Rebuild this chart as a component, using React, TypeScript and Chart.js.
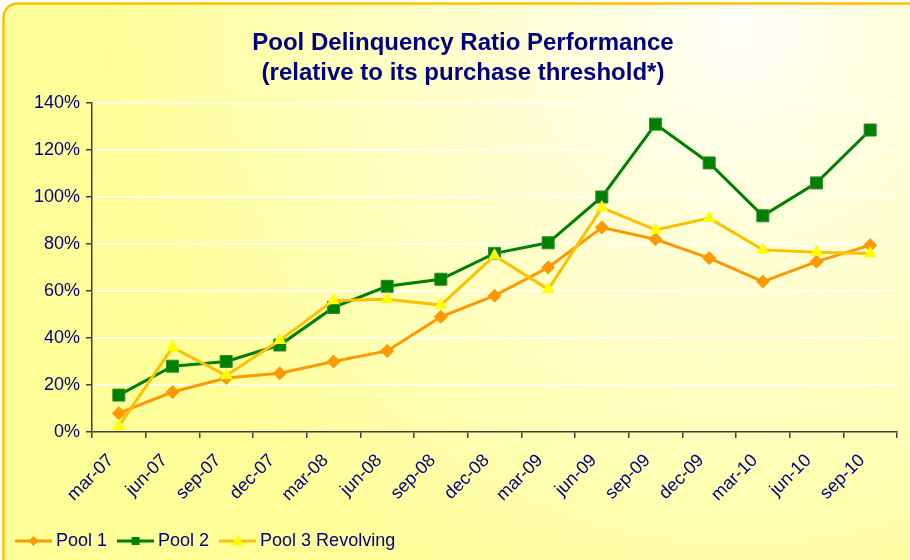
import React, { useEffect, useRef } from "react";
import { Chart, registerables } from "chart.js";

Chart.register(...registerables);

const categories = [
  "mar-07", "jun-07", "sep-07", "dec-07", "mar-08", "jun-08", "sep-08", "dec-08",
  "mar-09", "jun-09", "sep-09", "dec-09", "mar-10", "jun-10", "sep-10",
];
const pool1 = [8, 17, 23, 25, 30, 34.5, 49, 58, 70, 87, 82, 74, 64, 72.5, 79.5];
const pool2 = [15.7, 28, 30, 37, 53, 62, 65, 76, 80.5, 100, 131, 114.5, 92, 106, 128.5];
const pool3 = [2.5, 36, 24, 39, 56, 56.5, 54, 75, 60.7, 95.5, 86, 91, 77.5, 76.5, 76];
const seriesNames = ["Pool 1", "Pool 2", "Pool 3 Revolving"];
const titleLines = ["Pool Delinquency Ratio Performance", "(relative to its purchase threshold*)"];
const yMax = 140;
const yStep = 20;

const FONT = "'Liberation Sans', Arial, sans-serif";
const NAVY = "#000080";
const AXIS = "#404040";

function legendIcon(kind: string, line: string, fill: string) {
  const c = document.createElement("canvas");
  c.width = 37;
  c.height = 16;
  const ctx = c.getContext("2d")!;
  ctx.strokeStyle = line;
  ctx.lineWidth = 3;
  ctx.beginPath();
  ctx.moveTo(0, 8);
  ctx.lineTo(37, 8);
  ctx.stroke();
  ctx.fillStyle = fill;
  ctx.beginPath();
  if (kind === "diamond") {
    ctx.moveTo(18.5, 3);
    ctx.lineTo(23.5, 8);
    ctx.lineTo(18.5, 13);
    ctx.lineTo(13.5, 8);
  } else if (kind === "square") {
    ctx.rect(14.5, 4, 8, 8);
  } else {
    ctx.moveTo(18.5, 1.5);
    ctx.lineTo(24.5, 12.5);
    ctx.lineTo(12.5, 12.5);
  }
  ctx.closePath();
  ctx.fill();
  return c;
}

const bgPlugin = {
  id: "bgPlugin",
  beforeDraw(chart: any) {
    const { ctx, width, height } = chart;
    ctx.save();
    ctx.fillStyle = "#ffffff";
    ctx.fillRect(0, 0, width, height);
    const g = ctx.createRadialGradient(740, 30, 0, 740, 30, 640);
    g.addColorStop(0, "#FFFFF6");
    g.addColorStop(1, "#FFFF99");
    ctx.fillStyle = g;
    const x = 3.5, y = 3.5, w = width + 30, h = height + 30, r = 14;
    ctx.beginPath();
    ctx.moveTo(x + r, y);
    ctx.lineTo(x + w, y);
    ctx.lineTo(x + w, y + h);
    ctx.lineTo(x, y + h);
    ctx.lineTo(x, y + r);
    ctx.arcTo(x, y, x + r, y, r);
    ctx.closePath();
    ctx.fill();
    ctx.strokeStyle = "#FFC000";
    ctx.lineWidth = 2.5;
    ctx.stroke();
    ctx.restore();
  },
};

const titlePlugin = {
  id: "titlePlugin",
  afterDraw(chart: any) {
    const { ctx } = chart;
    ctx.save();
    ctx.fillStyle = NAVY;
    ctx.font = `bold 24px ${FONT}`;
    ctx.textAlign = "center";
    ctx.textBaseline = "alphabetic";
    ctx.fillText(titleLines[0], 463, 50);
    ctx.fillText(titleLines[1], 463, 80);
    ctx.restore();
  },
};

export default function App() {
  const ref = useRef<HTMLCanvasElement>(null);
  useEffect(() => {
    if (!ref.current) return;
    const icons = [
      legendIcon("diamond", "#FF9900", "#FF9900"),
      legendIcon("square", "#008000", "#008000"),
      legendIcon("triangle", "#FFC000", "#FFFF00"),
    ];
    const chart = new Chart(ref.current, {
      type: "line",
      data: {
        labels: categories,
        datasets: [
          {
            label: seriesNames[0],
            data: pool1,
            borderColor: "#FF9900",
            backgroundColor: "#FF9900",
            borderWidth: 3,
            pointStyle: "rectRot",
            pointRadius: 6.5,
            pointBorderWidth: 1,
            pointBorderColor: "#FF9900",
            pointBackgroundColor: "#FF9900",
            tension: 0,
            order: 2,
          },
          {
            label: seriesNames[1],
            data: pool2,
            borderColor: "#008000",
            backgroundColor: "#008000",
            borderWidth: 3,
            pointStyle: "rect",
            pointRadius: 8.5,
            pointBorderWidth: 1,
            pointBorderColor: "#2E8B2E",
            pointBackgroundColor: "#008000",
            tension: 0,
            order: 1,
          },
          {
            label: seriesNames[2],
            data: pool3,
            borderColor: "#FFC000",
            backgroundColor: "#FFFF00",
            borderWidth: 3,
            pointStyle: "triangle",
            pointRadius: 7.5,
            pointBorderWidth: 0,
            pointBackgroundColor: "#FFFF00",
            tension: 0,
            order: 0,
          },
        ],
      },
      options: {
        responsive: false,
        animation: false,
        layout: { padding: { top: 103, left: 5, right: 13, bottom: 0 } },
        plugins: {
          title: { display: false },
          tooltip: { enabled: false },
          legend: {
            position: "bottom",
            align: "start",
            labels: {
              usePointStyle: true,
              pointStyleWidth: 27,
              padding: 15,
              color: NAVY,
              font: { family: FONT, size: 18 },
              generateLabels: () =>
                seriesNames.map((t, i) => ({
                  text: t,
                  pointStyle: icons[i],
                  fillStyle: "transparent",
                  strokeStyle: "transparent",
                  lineWidth: 0,
                  hidden: false,
                  datasetIndex: i,
                  fontColor: NAVY,
                })),
            },
          },
        },
        scales: {
          x: {
            offset: true,
            afterFit: (s: any) => {
              s.height = 85;
            },
            grid: {
              display: true,
              drawOnChartArea: false,
              offset: true,
              tickLength: 6,
              color: AXIS,
              lineWidth: 1.5,
            },
            border: { display: true, color: AXIS, width: 1.5 },
            ticks: {
              minRotation: 45,
              maxRotation: 45,
              autoSkip: false,
              color: NAVY,
              padding: 12,
              labelOffset: -8,
              font: { family: FONT, size: 18 },
            },
          },
          y: {
            min: 0,
            max: yMax,
            afterFit: (s: any) => {
              s.width = 87;
            },
            grid: {
              color: (c: any) => (c.tick && c.tick.value === 0 ? "rgba(0,0,0,0)" : "#FFFFFF"),
              tickColor: AXIS,
              lineWidth: 1.5,
              tickLength: 6,
            },
            border: { display: true, color: AXIS, width: 1.5 },
            ticks: {
              stepSize: yStep,
              color: NAVY,
              padding: 6,
              font: { family: FONT, size: 18 },
              callback: (v: any) => `${v}%`,
            },
          },
        },
      },
      plugins: [bgPlugin, titlePlugin],
    });
    return () => chart.destroy();
  }, []);
  return (
    <div style={{ position: "absolute", left: 0, top: 0, width: 910, height: 560 }}>
      <canvas ref={ref} width={910} height={560} style={{ display: "block" }} />
    </div>
  );
}
